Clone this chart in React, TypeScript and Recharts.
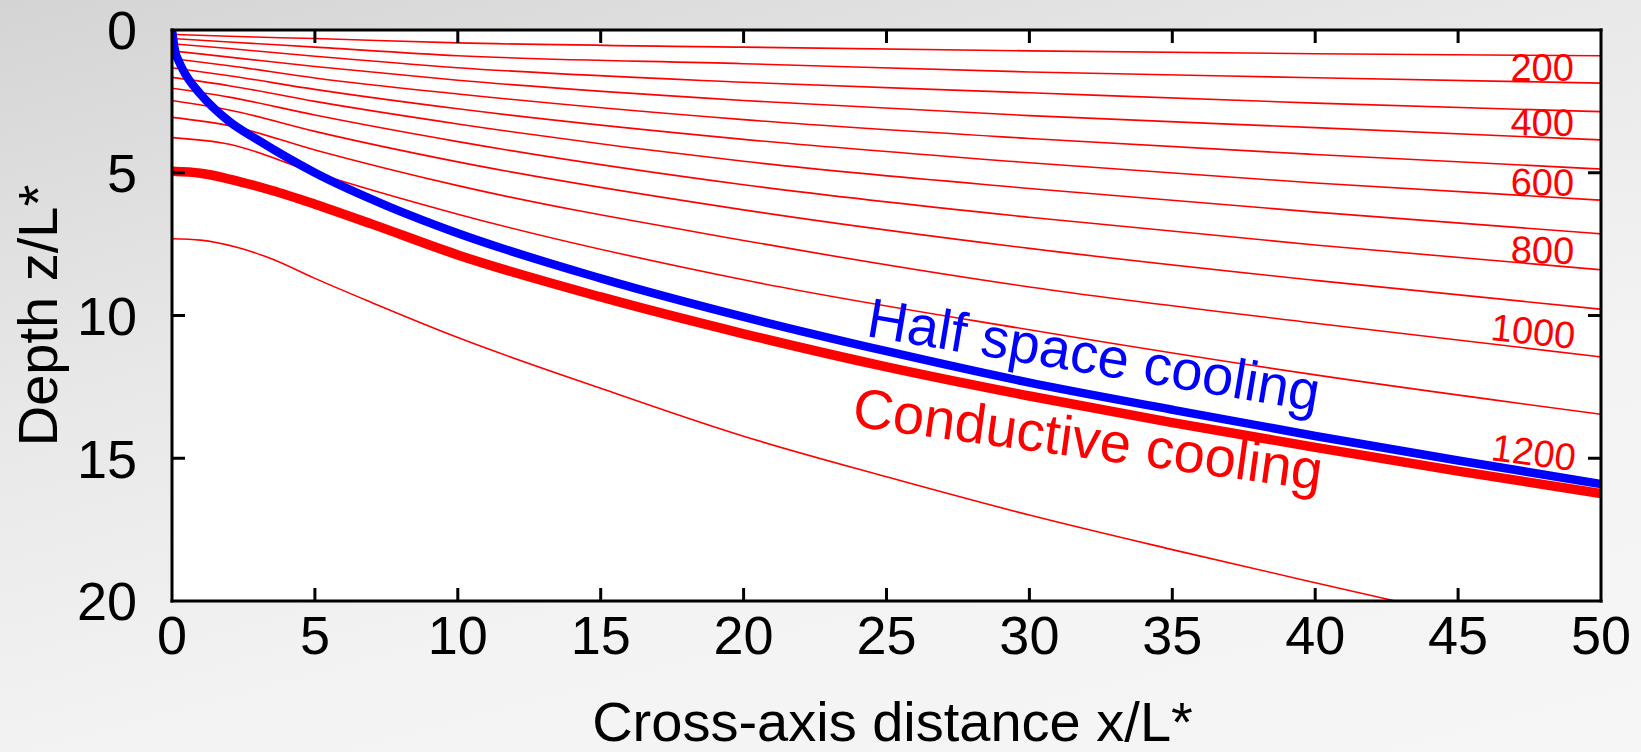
import React from "react"
import {
  LineChart,
  Line,
  XAxis,
  YAxis,
  CartesianGrid,
  ReferenceDot,
} from "recharts"

// x positions (x/L*) where the isotherms were read
const isoX = [0, 2, 5, 10, 20, 30, 40, 50]

// isotherm depths (z/L*), 100 .. 1100
const iso100 = [0.15, 0.22, 0.3, 0.45, 0.6, 0.73, 0.83, 0.9]
const iso200 = [0.3, 0.42, 0.6, 0.9, 1.18, 1.47, 1.67, 1.86]
const iso300 = [0.48, 0.65, 0.92, 1.32, 1.83, 2.2, 2.56, 2.86]
const iso400 = [0.73, 0.95, 1.28, 1.76, 2.47, 3.0, 3.42, 3.85]
const iso500 = [1.0, 1.25, 1.68, 2.24, 3.14, 3.8, 4.36, 4.87]
const iso600 = [1.32, 1.6, 2.08, 2.76, 3.83, 4.65, 5.36, 5.96]
const iso700 = [1.66, 1.95, 2.5, 3.29, 4.6, 5.55, 6.38, 7.14]
const iso800 = [2.04, 2.35, 2.98, 3.91, 5.42, 6.56, 7.53, 8.4]
const iso900 = [2.47, 2.8, 3.55, 4.62, 6.3, 7.65, 8.77, 9.78]
const iso1000 = [3.06, 3.35, 4.2, 5.45, 7.37, 9.0, 10.27, 11.45]
const iso1100 = [3.77, 4.0, 5.0, 6.45, 8.75, 10.5, 12.08, 13.46]

// conductive cooling (thick red, 1200)
const conductiveX = [0, 1, 2, 3.5, 5, 7, 10, 15, 20, 25, 30, 35, 40, 45, 50]
const conductiveZ = [4.95, 5.02, 5.22, 5.62, 6.1, 6.8, 7.88, 9.35, 10.64, 11.8, 12.82, 13.75, 14.62, 15.45, 16.24]

// deepest isotherm, leaves the plot at the bottom
const iso1300X = [0, 1, 2.3, 3.5, 5, 7, 10, 15, 20, 25, 30, 35, 40, 42.8]
const iso1300Z = [7.31, 7.36, 7.62, 8.02, 8.7, 9.55, 10.77, 12.55, 14.23, 15.65, 16.99, 18.2, 19.36, 20]

// half space cooling (blue)
const halfSpaceX = [0, 0.1, 0.25, 0.5, 1, 2, 3, 4, 5, 7.5, 10, 15, 20, 25, 30, 35, 40, 45, 50]
const halfSpaceZ = [0, 0.7, 1.12, 1.6, 2.25, 3.2, 3.85, 4.45, 5.0, 6.15, 7.12, 8.7, 10.05, 11.25, 12.35, 13.3, 14.22, 15.08, 15.9]

const xTicks = [0, 5, 10, 15, 20, 25, 30, 35, 40, 45, 50]
const yTicks = [0, 5, 10, 15, 20]

const contourLabels = ["200", "400", "600", "800", "1000", "1200"]
const contourLabelZ = [1.79, 3.71, 5.81, 8.2, 11.17, 15.45]
const contourAngles = [0, 0.5, 1, 1.5, 6, 7.5]

const thinIsotherms = [iso100, iso200, iso300, iso400, iso500, iso600, iso700, iso800, iso900, iso1000, iso1100]

const toPoints = (xs: number[], zs: number[]) => xs.map((x, i) => ({ x, z: zs[i] }))

const FONT = '"Liberation Sans", Arial, Helvetica, sans-serif'
const RED = "#ff0000"
const BLUE = "#0000ff"

const xMin = xTicks[0]
const xMax = xTicks[xTicks.length - 1]
const yMin = yTicks[0]
const yMax = yTicks[yTicks.length - 1]

function BottomTick(props: any) {
  const { x, y, payload } = props
  const edge = payload.value === xMin || payload.value === xMax
  return (
    <g>
      {!edge && <line x1={x} y1={y} x2={x} y2={y - 13} stroke="#000" strokeWidth={3} />}
      <text x={x} y={y + 53} textAnchor="middle" fontSize={54} fill="#000" fontFamily={FONT}>
        {payload.value}
      </text>
    </g>
  )
}

function TopTick(props: any) {
  const { x, y, payload } = props
  if (payload.value === xMin || payload.value === xMax) return <g />
  return <line x1={x} y1={y} x2={x} y2={y + 13} stroke="#000" strokeWidth={3} />
}

function LeftTick(props: any) {
  const { x, y, payload } = props
  const edge = payload.value === yMin || payload.value === yMax
  return (
    <g>
      {!edge && <line x1={x} y1={y} x2={x + 13} y2={y} stroke="#000" strokeWidth={3} />}
      <text x={x - 35} y={y} dy="0.36em" textAnchor="end" fontSize={54} fill="#000" fontFamily={FONT}>
        {payload.value}
      </text>
    </g>
  )
}

function RightTick(props: any) {
  const { x, y, payload } = props
  if (payload.value === yMin || payload.value === yMax) return <g />
  return <line x1={x} y1={y} x2={x - 13} y2={y} stroke="#000" strokeWidth={3} />
}

function RotText(props: any) {
  const { viewBox, lblText, lblRot, lblColor, lblSize, lblAnchor } = props
  const cx = viewBox.x + (viewBox.width || 0) / 2
  const cy = viewBox.y + (viewBox.height || 0) / 2
  return (
    <text
      x={cx}
      y={cy}
      textAnchor={lblAnchor}
      fontSize={lblSize}
      fill={lblColor}
      fontFamily={FONT}
      transform={`rotate(${lblRot} ${cx} ${cy})`}
    >
      {lblText}
    </text>
  )
}

function XTitle(props: any) {
  const { viewBox } = props
  return (
    <text
      x={viewBox.x + viewBox.width / 2 + 6}
      y={viewBox.y + 140}
      textAnchor="middle"
      fontSize={56}
      fill="#000"
      fontFamily={FONT}
    >
      Cross-axis distance x/L*
    </text>
  )
}

function YTitle(props: any) {
  const { viewBox } = props
  const x = viewBox.x + 57
  const y = viewBox.y + viewBox.height / 2
  return (
    <text x={x} y={y} textAnchor="middle" fontSize={56} fill="#000" fontFamily={FONT} transform={`rotate(-90 ${x} ${y})`}>
      Depth z/L*
    </text>
  )
}

export default function App() {
  const axisLine = { stroke: "#000", strokeWidth: 3, strokeLinecap: "square" as const }
  return (
    <div
      style={{
        position: "absolute",
        left: 0,
        top: 0,
        width: 1641,
        height: 752,
        background: "linear-gradient(165deg, #d4d4d4 0%, #e8e8e8 35%, #f3f3f3 65%, #f6f6f6 100%)",
      }}
    >
      <LineChart width={1641} height={752} margin={{ top: 0, right: 0, bottom: 0, left: 0 }}>
        <CartesianGrid horizontal={false} vertical={false} fill="#ffffff" fillOpacity={1} stroke="none" />
        <XAxis
          dataKey="x"
          type="number"
          domain={[xMin, xMax]}
          ticks={xTicks}
          interval={0}
          height={151}
          tickSize={0}
          tickMargin={0}
          tickLine={false}
          axisLine={axisLine}
          tick={<BottomTick />}
          allowDataOverflow
          label={<XTitle />}
        />
        <XAxis
          xAxisId="top"
          orientation="top"
          dataKey="x"
          type="number"
          domain={[xMin, xMax]}
          ticks={xTicks}
          interval={0}
          height={30}
          tickSize={0}
          tickMargin={0}
          tickLine={false}
          axisLine={axisLine}
          tick={<TopTick />}
          allowDataOverflow
        />
        <YAxis
          type="number"
          domain={[yMin, yMax]}
          reversed
          ticks={yTicks}
          interval={0}
          width={172}
          tickSize={0}
          tickMargin={0}
          tickLine={false}
          axisLine={axisLine}
          tick={<LeftTick />}
          allowDataOverflow
          label={<YTitle />}
        />
        <YAxis
          yAxisId="right"
          orientation="right"
          type="number"
          domain={[yMin, yMax]}
          reversed
          ticks={yTicks}
          interval={0}
          width={40}
          tickSize={0}
          tickMargin={0}
          tickLine={false}
          axisLine={axisLine}
          tick={<RightTick />}
          allowDataOverflow
        />

        {thinIsotherms.map((zs, i) => (
          <Line
            key={`iso${(i + 1) * 100}`}
            data={toPoints(isoX, zs)}
            dataKey="z"
            type="monotone"
            stroke={RED}
            strokeWidth={1.6}
            dot={false}
            activeDot={false}
            isAnimationActive={false}
          />
        ))}
        <Line
          data={toPoints(iso1300X, iso1300Z)}
          dataKey="z"
          type="monotone"
          stroke={RED}
          strokeWidth={1.6}
          dot={false}
          activeDot={false}
          isAnimationActive={false}
        />
        <Line
          data={toPoints(conductiveX, conductiveZ)}
          dataKey="z"
          type="monotone"
          stroke={RED}
          strokeWidth={9.5}
          dot={false}
          activeDot={false}
          isAnimationActive={false}
        />
        <Line
          data={toPoints(halfSpaceX, halfSpaceZ)}
          dataKey="z"
          type="monotone"
          stroke={BLUE}
          strokeWidth={8.5}
          dot={false}
          activeDot={false}
          isAnimationActive={false}
        />

        {contourLabels.map((t, i) => (
          <ReferenceDot
            key={t}
            x={49.05}
            y={contourLabelZ[i]}
            r={0}
            fill="none"
            stroke="none"
            label={<RotText lblText={t} lblRot={contourAngles[i]} lblColor={RED} lblSize={38} lblAnchor="end" />}
          />
        ))}
        <ReferenceDot
          x={24.25}
          y={10.72}
          r={0}
          fill="none"
          stroke="none"
          label={<RotText lblText="Half space cooling" lblRot={9.5} lblColor={BLUE} lblSize={56} lblAnchor="start" />}
        />
        <ReferenceDot
          x={23.76}
          y={13.87}
          r={0}
          fill="none"
          stroke="none"
          label={<RotText lblText="Conductive cooling" lblRot={7.8} lblColor={RED} lblSize={56} lblAnchor="start" />}
        />
      </LineChart>
    </div>
  )
}
